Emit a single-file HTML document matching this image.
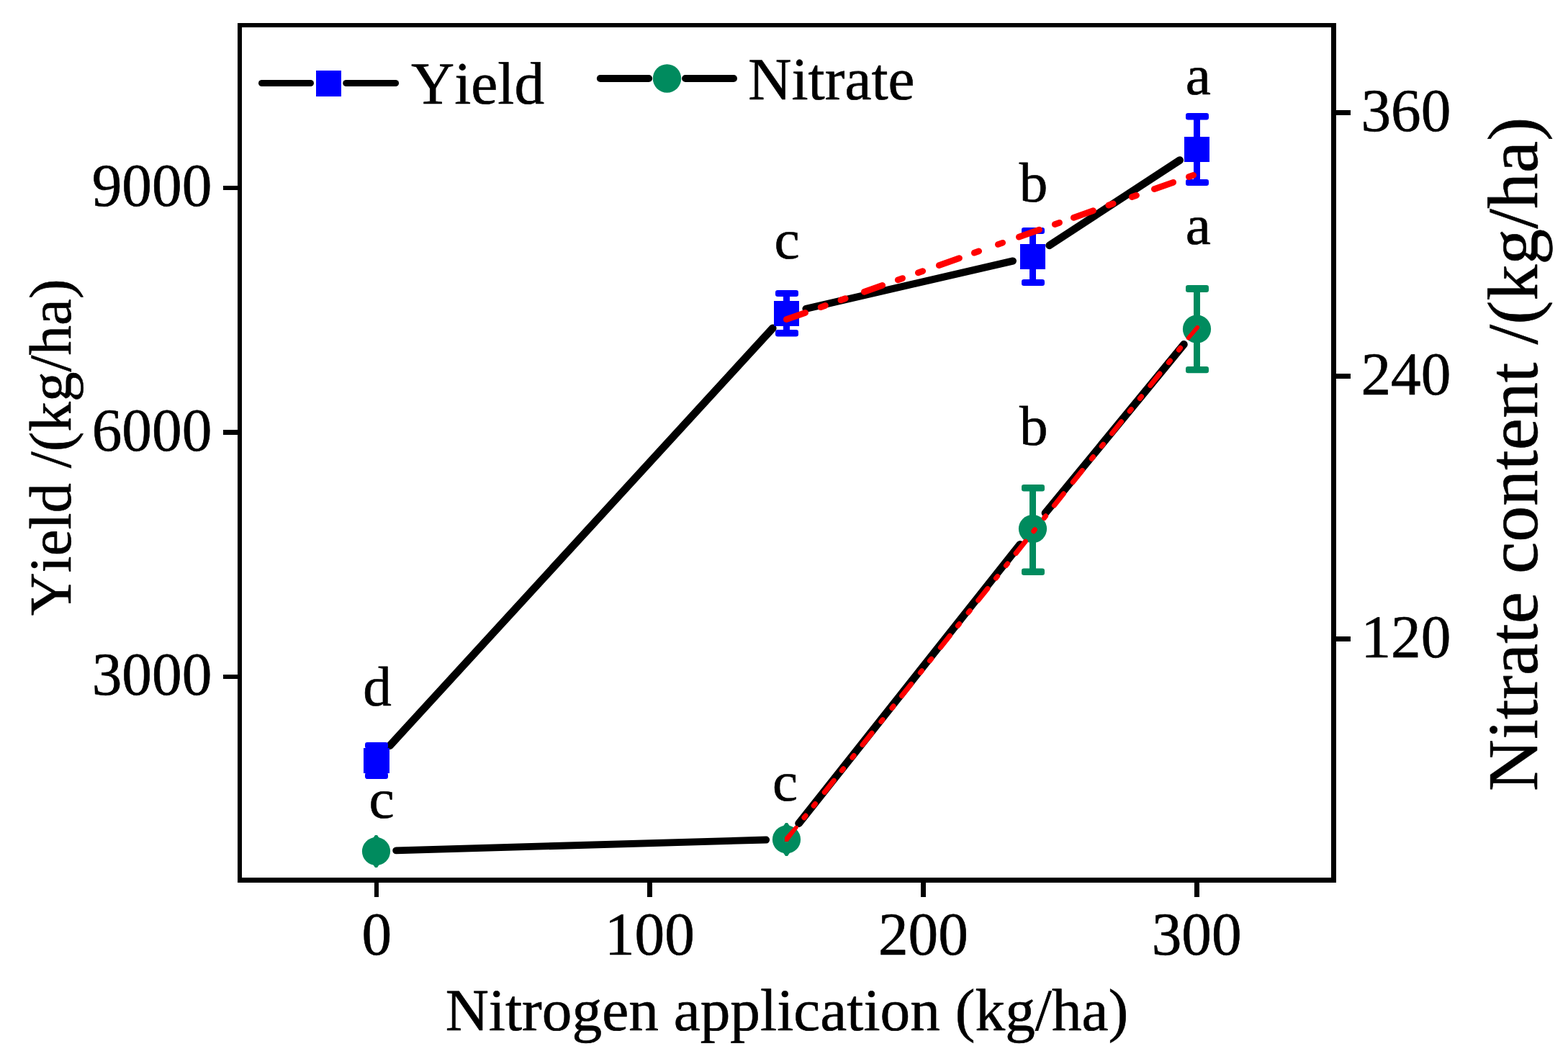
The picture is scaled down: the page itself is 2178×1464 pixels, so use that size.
<!DOCTYPE html>
<html lang="en"><head><meta charset="utf-8"><title>Yield and nitrate content vs nitrogen application</title>
<style>html,body{margin:0;padding:0;background:#fff}body{width:2178px;height:1464px;overflow:hidden}svg{display:block}text{font-family:"Liberation Serif",serif;fill:#000;font-kerning:none;font-variant-ligatures:none;text-rendering:geometricPrecision;stroke:#000;stroke-width:0.6px;stroke-linejoin:round}</style>
</head><body>
<svg width="2178" height="1464" viewBox="0 0 2178 1464">
<rect x="0" y="0" width="2178" height="1464" fill="#fff"/>
<g id="lines" stroke="#000" stroke-linecap="round" fill="none">
<line x1="541.62" y1="1035.56" x2="1073.28" y2="455.84" stroke-width="10.70"/>
<line x1="1119.48" y1="428.90" x2="1406.92" y2="362.50" stroke-width="10.09"/>
<line x1="1457.64" y1="340.88" x2="1638.76" y2="222.52" stroke-width="10.55"/>
<line x1="550.19" y1="1181.39" x2="1064.21" y2="1166.51" stroke-width="9.84"/>
<line x1="1109.59" y1="1143.76" x2="1416.81" y2="756.24" stroke-width="10.70"/>
<line x1="1451.98" y1="712.67" x2="1644.42" y2="478.43" stroke-width="10.70"/>
</g>
<g id="errorbars">
<rect x="518.50" y="1033.00" width="9.00" height="47.00" fill="#0000FF"/>
<rect x="507.00" y="1031.00" width="32.00" height="9.00" rx="3.2" ry="3.2" fill="#0000FF"/>
<rect x="507.00" y="1073.00" width="32.00" height="9.00" rx="3.2" ry="3.2" fill="#0000FF"/>
<rect x="1088.00" y="405.00" width="9.00" height="60.50" fill="#0000FF"/>
<rect x="1077.00" y="403.00" width="32.00" height="9.00" rx="3.2" ry="3.2" fill="#0000FF"/>
<rect x="1077.00" y="458.00" width="32.00" height="9.50" rx="3.2" ry="3.2" fill="#0000FF"/>
<rect x="1430.00" y="318.00" width="9.00" height="77.00" fill="#0000FF"/>
<rect x="1419.00" y="316.00" width="32.00" height="9.00" rx="3.2" ry="3.2" fill="#0000FF"/>
<rect x="1419.00" y="388.00" width="32.00" height="9.00" rx="3.2" ry="3.2" fill="#0000FF"/>
<rect x="1658.00" y="159.00" width="9.00" height="97.00" fill="#0000FF"/>
<rect x="1647.00" y="157.00" width="32.00" height="9.50" rx="3.2" ry="3.2" fill="#0000FF"/>
<rect x="1647.00" y="249.00" width="32.00" height="9.00" rx="3.2" ry="3.2" fill="#0000FF"/>
<path d="M518.0 1164.5 L521.0 1160.0 L524.0 1160.0 L527.0 1164.5 L527.0 1200.5 L524.0 1205.0 L521.0 1205.0 L518.0 1200.5 Z" fill="#008B5E"/>
<path d="M1088.0 1147.5 L1091.0 1143.0 L1094.0 1143.0 L1097.0 1147.5 L1097.0 1184.5 L1094.0 1189.0 L1091.0 1189.0 L1088.0 1184.5 Z" fill="#008B5E"/>
<rect x="1430.00" y="675.00" width="9.00" height="122.00" fill="#008B5E"/>
<rect x="1419.00" y="673.00" width="32.00" height="9.50" rx="3.2" ry="3.2" fill="#008B5E"/>
<rect x="1419.00" y="789.60" width="32.00" height="9.40" rx="3.2" ry="3.2" fill="#008B5E"/>
<rect x="1658.00" y="398.00" width="9.00" height="118.30" fill="#008B5E"/>
<rect x="1647.00" y="396.00" width="32.00" height="10.00" rx="3.2" ry="3.2" fill="#008B5E"/>
<rect x="1647.00" y="509.00" width="32.00" height="9.30" rx="3.2" ry="3.2" fill="#008B5E"/>
</g>
<g id="markers">
<rect x="505" y="1039" width="36" height="35" fill="#0000FF" shape-rendering="crispEdges"/>
<rect x="1075" y="418" width="35" height="35" fill="#0000FF" shape-rendering="crispEdges"/>
<rect x="1417" y="339" width="35" height="35" fill="#0000FF" shape-rendering="crispEdges"/>
<rect x="1645" y="190" width="35" height="35" fill="#0000FF" shape-rendering="crispEdges"/>
<circle cx="522.50" cy="1182.50" r="19.60" fill="#008B5E"/>
<circle cx="1092.50" cy="1166.00" r="19.60" fill="#008B5E"/>
<circle cx="1434.50" cy="734.60" r="19.60" fill="#008B5E"/>
<circle cx="1662.50" cy="457.10" r="19.60" fill="#008B5E"/>
</g>
<g id="fits">
<g stroke="#FF0000" stroke-width="8.70" stroke-linecap="round" fill="none">
<line x1="1092.30" y1="443.68" x2="1118.70" y2="434.32"/>
<line x1="1140.10" y1="426.74" x2="1146.50" y2="424.47"/>
<line x1="1167.85" y1="416.91" x2="1174.25" y2="414.64"/>
<line x1="1200.33" y1="405.40" x2="1225.77" y2="396.39"/>
<line x1="1247.20" y1="388.80" x2="1253.60" y2="386.53"/>
<line x1="1275.30" y1="378.84" x2="1281.70" y2="376.57"/>
<line x1="1304.26" y1="368.58" x2="1332.54" y2="358.56"/>
<line x1="1353.30" y1="351.21" x2="1359.70" y2="348.94"/>
<line x1="1386.30" y1="339.51" x2="1392.70" y2="337.24"/>
<line x1="1415.36" y1="329.22" x2="1443.64" y2="319.20"/>
<line x1="1465.20" y1="311.56" x2="1471.60" y2="309.29"/>
<line x1="1491.23" y1="302.33" x2="1518.57" y2="292.65"/>
<line x1="1539.80" y1="285.13" x2="1546.20" y2="282.86"/>
<line x1="1572.20" y1="273.65" x2="1578.60" y2="271.38"/>
<line x1="1603.30" y1="262.63" x2="1629.70" y2="253.28"/>
<line x1="1651.30" y1="245.62" x2="1657.70" y2="243.35"/>
</g>
<g stroke="#FF0000" stroke-width="7.00" stroke-linecap="round" fill="none">
<line x1="1116.91" y1="1135.80" x2="1119.09" y2="1133.07"/>
<line x1="1130.21" y1="1119.20" x2="1132.39" y2="1116.46"/>
<line x1="1145.19" y1="1100.50" x2="1158.31" y2="1084.10"/>
<line x1="1169.31" y1="1070.38" x2="1171.49" y2="1067.65"/>
<line x1="1183.91" y1="1052.16" x2="1186.09" y2="1049.42"/>
<line x1="1197.94" y1="1034.64" x2="1211.06" y2="1018.25"/>
<line x1="1223.81" y1="1002.35" x2="1225.99" y2="999.61"/>
<line x1="1238.91" y1="983.49" x2="1241.09" y2="980.76"/>
<line x1="1252.54" y1="966.48" x2="1265.66" y2="950.09"/>
<line x1="1278.31" y1="934.31" x2="1280.49" y2="931.58"/>
<line x1="1291.51" y1="917.83" x2="1293.69" y2="915.10"/>
<line x1="1306.34" y1="899.32" x2="1319.46" y2="882.93"/>
<line x1="1330.41" y1="869.27" x2="1332.59" y2="866.53"/>
<line x1="1345.11" y1="850.91" x2="1347.29" y2="848.18"/>
<line x1="1358.74" y1="833.90" x2="1371.86" y2="817.51"/>
<line x1="1383.41" y1="803.10" x2="1385.59" y2="800.37"/>
<line x1="1397.41" y1="785.62" x2="1399.59" y2="782.89"/>
<line x1="1411.14" y1="768.48" x2="1424.26" y2="752.09"/>
<line x1="1435.79" y1="737.71" x2="1437.41" y2="735.68"/>
<line x1="1450.41" y1="719.46" x2="1452.59" y2="716.73"/>
<line x1="1464.34" y1="702.07" x2="1477.46" y2="685.68"/>
<line x1="1490.24" y1="669.73" x2="1503.36" y2="653.34"/>
<line x1="1516.31" y1="637.19" x2="1518.49" y2="634.46"/>
<line x1="1530.21" y1="619.84" x2="1532.39" y2="617.10"/>
<line x1="1544.44" y1="602.07" x2="1557.56" y2="585.68"/>
<line x1="1569.21" y1="571.15" x2="1571.39" y2="568.42"/>
<line x1="1583.31" y1="553.55" x2="1585.49" y2="550.81"/>
<line x1="1597.84" y1="535.41" x2="1610.96" y2="519.02"/>
<line x1="1623.31" y1="503.61" x2="1625.49" y2="500.88"/>
<line x1="1637.41" y1="486.01" x2="1639.59" y2="483.28"/>
</g>
<polygon points="1090,1163 1090,1168.9 1094.6,1168.9 1108.8,1150.1 1108.5,1147 1104.2,1147" fill="#FF0000"/>
<line x1="1650.6" y1="469.6" x2="1663.3" y2="454.6" stroke="#FF0000" stroke-width="5.6" stroke-linecap="round"/>
</g>
<g id="axes" fill="#000" shape-rendering="crispEdges">
<rect x="330" y="32" width="1526" height="6"/>
<rect x="330" y="1219" width="1526" height="7"/>
<rect x="330" y="32" width="6" height="1194"/>
<rect x="1849" y="32" width="7" height="1194"/>
<rect x="520" y="1226" width="6" height="20"/>
<rect x="899" y="1226" width="7" height="20"/>
<rect x="1279" y="1226" width="7" height="20"/>
<rect x="1659" y="1226" width="7" height="20"/>
<rect x="310" y="258" width="20" height="6"/>
<rect x="310" y="597" width="20" height="7"/>
<rect x="310" y="937" width="20" height="6"/>
<rect x="1856" y="153" width="20" height="7"/>
<rect x="1856" y="519" width="20" height="7"/>
<rect x="1856" y="884" width="20" height="7"/>
</g>
<g id="ticklabels">
<text transform="translate(523.40 1326.00) scale(1 1.0150)" font-size="83.33" text-anchor="middle">0</text>
<text transform="translate(902.40 1326.00) scale(1 1.0150)" font-size="83.33" text-anchor="middle">100</text>
<text transform="translate(1282.40 1326.00) scale(1 1.0150)" font-size="83.33" text-anchor="middle">200</text>
<text transform="translate(1662.20 1326.00) scale(1 1.0150)" font-size="83.33" text-anchor="middle">300</text>
<text transform="translate(294.30 286.00) scale(1 1.0150)" font-size="83.33" text-anchor="end">9000</text>
<text transform="translate(294.30 625.60) scale(1 1.0150)" font-size="83.33" text-anchor="end">6000</text>
<text transform="translate(294.30 965.10) scale(1 1.0150)" font-size="83.33" text-anchor="end">3000</text>
<text transform="translate(1890.40 181.70) scale(1 1.0150)" font-size="83.33" text-anchor="start">360</text>
<text transform="translate(1890.40 547.50) scale(1 1.0150)" font-size="83.33" text-anchor="start">240</text>
<text transform="translate(1890.40 912.70) scale(1 1.0150)" font-size="83.33" text-anchor="start">120</text>
</g>
<g id="titles">
<text transform="translate(1093.00 1431.40) scale(1 0.9930)" font-size="83.33" text-anchor="middle">Nitrogen application (kg/ha)</text>
<text transform="translate(98.00 621.40) rotate(-90) scale(1 0.9930)" font-size="83.00" text-anchor="middle">Yield /(kg/ha)</text>
<text transform="translate(2135.10 630.80) rotate(-90) scale(1 0.9930)" font-size="99.75" text-anchor="middle">Nitrate content /(kg/ha)</text>
</g>
<g id="legend">
<g stroke="#000" stroke-linecap="round">
<line x1="363.6" y1="115.5" x2="431.4" y2="115.5" stroke-width="9.2"/><line x1="480.8" y1="115.5" x2="549.5" y2="115.5" stroke-width="9.2"/>
<line x1="833.8" y1="109" x2="901.2" y2="109" stroke-width="9.8"/><line x1="952" y1="109" x2="1019.1" y2="109" stroke-width="9.8"/>
</g>
<rect x="439" y="98" width="35" height="36" fill="#0000FF" shape-rendering="crispEdges"/>
<circle cx="926.5" cy="109" r="19.7" fill="#008B5E"/>
<text transform="translate(571.00 143.90) scale(1 1.0000)" font-size="83.33" text-anchor="start">Yield</text>
<text transform="translate(1039.20 137.70) scale(1 1.0000)" font-size="83.33" text-anchor="start">Nitrate</text>
</g>
<g id="annotations">
<text transform="translate(524.10 980.30) scale(1 0.9850)" font-size="79.20" text-anchor="middle">d</text>
<text transform="translate(530.20 1135.60) scale(1 0.9850)" font-size="79.20" text-anchor="middle">c</text>
<text transform="translate(1093.20 359.30) scale(1 0.9850)" font-size="79.20" text-anchor="middle">c</text>
<text transform="translate(1090.50 1111.60) scale(1 0.9850)" font-size="79.20" text-anchor="middle">c</text>
<text transform="translate(1435.60 280.00) scale(1 0.9850)" font-size="79.20" text-anchor="middle">b</text>
<text transform="translate(1435.80 617.60) scale(1 0.9850)" font-size="79.20" text-anchor="middle">b</text>
<text transform="translate(1664.40 130.80) scale(1 0.9850)" font-size="79.20" text-anchor="middle">a</text>
<text transform="translate(1664.40 338.70) scale(1 0.9850)" font-size="79.20" text-anchor="middle">a</text>
</g>
</svg>
</body></html>
